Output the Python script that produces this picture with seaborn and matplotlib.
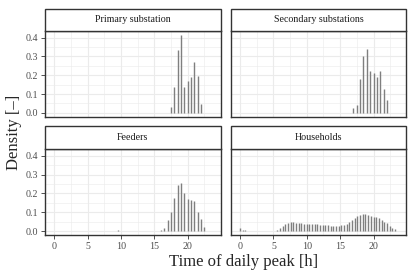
import numpy as np
import pandas as pd
import matplotlib
matplotlib.use("Agg")
import matplotlib.pyplot as plt
import seaborn as sns
from matplotlib.patches import Rectangle
from matplotlib.ticker import MultipleLocator

panels = ["Primary substation", "Secondary substations", "Feeders", "Households"]

primary_hour = [17.5, 18, 18.5, 19, 19.5, 20, 20.5, 21, 21.5, 22]
primary_density = [0.033, 0.14, 0.333, 0.415, 0.14, 0.167, 0.19, 0.272, 0.194, 0.048]

secondary_hour = [17, 17.5, 18, 18.5, 19, 19.5, 20, 20.5, 21, 21.5, 22]
secondary_density = [0.025, 0.04, 0.18, 0.30, 0.34, 0.224, 0.21, 0.19, 0.224, 0.126, 0.066]

feeder_hour = [9.5, 10, 10.5, 11, 11.5, 12, 12.5, 15.5, 16, 16.5, 17, 17.5,
               18, 18.5, 19, 19.5, 20, 20.5, 21, 21.5, 22, 22.5]
feeder_density = [0.004, 0.003, 0.003, 0.002, 0.003, 0.002, 0.003, 0.002, 0.005, 0.018, 0.058, 0.10,
                  0.177, 0.245, 0.254, 0.20, 0.17, 0.165, 0.16, 0.10, 0.064, 0.02]

household_hour = [0.0, 0.4, 0.8, 4.8, 5.2, 5.6, 6.0, 6.4, 6.8, 7.2, 7.6, 8.0, 8.4, 8.8,
                  9.2, 9.6, 10.0, 10.4, 10.8, 11.2, 11.6, 12.0, 12.4, 12.8, 13.2, 13.6,
                  14.0, 14.4, 14.8, 15.2, 15.6, 16.0, 16.4, 16.8, 17.2, 17.6, 18.0, 18.4,
                  18.8, 19.2, 19.6, 20.0, 20.4, 20.8, 21.2, 21.6, 22.0, 22.4, 22.8, 23.2]
household_density = [0.016, 0.008, 0.004, 0.002, 0.003, 0.005, 0.014, 0.026, 0.035, 0.042, 0.048, 0.046, 0.044, 0.042,
                     0.041, 0.039, 0.038, 0.038, 0.036, 0.035, 0.035, 0.034, 0.034, 0.032, 0.030, 0.028,
                     0.028, 0.028, 0.028, 0.030, 0.034, 0.037, 0.046, 0.058, 0.067, 0.080, 0.087, 0.090,
                     0.090, 0.087, 0.080, 0.076, 0.073, 0.067, 0.058, 0.048, 0.041, 0.027, 0.016, 0.010]

x_ticks = [0, 5, 10, 15, 20]
y_ticks = [0.0, 0.1, 0.2, 0.3, 0.4]

frames = []
for name, h, d in zip(panels,
                      [primary_hour, secondary_hour, feeder_hour, household_hour],
                      [primary_density, secondary_density, feeder_density, household_density]):
    frames.append(pd.DataFrame({"panel": name, "hour": h, "density": d}))
df = pd.concat(frames, ignore_index=True)

sns.set_theme(style="white")
plt.rcParams["font.family"] = ["Liberation Serif", "DejaVu Serif"]

g = sns.FacetGrid(df, col="panel", col_wrap=2, col_order=panels,
                  sharex=True, sharey=True, height=1.385, aspect=1.5, despine=False)


def stems(data, color=None, **kw):
    ax = plt.gca()
    ax.vlines(data["hour"], 0, data["density"], color="#7f7f7f", lw=1.0, zorder=3)


g.map_dataframe(stems)
g.set_titles("")
g.set_axis_labels("", "")
fig = g.figure
fig.set_size_inches(4.15, 2.77)

W, H = 415, 277
lefts = [45, 230.7, 45, 230.7]
tops = [31, 31, 149, 149]
bottoms = [116.7, 116.7, 235, 235]
pw = 175.5

ymax = 0.415
for i, ax in enumerate(g.axes.flat):
    ax.set_position([lefts[i] / W, 1 - bottoms[i] / H, pw / W, (bottoms[i] - tops[i]) / H])
    ax.set_xlim(-1.4, 24.9)
    ax.set_ylim(-0.05 * ymax, 1.05 * ymax)
    ax.xaxis.set_major_locator(MultipleLocator(5))
    ax.xaxis.set_minor_locator(MultipleLocator(2.5))
    ax.yaxis.set_major_locator(MultipleLocator(0.1))
    ax.yaxis.set_minor_locator(MultipleLocator(0.05))
    ax.grid(which="major", color="#ebebeb", lw=0.8, zorder=0)
    ax.grid(which="minor", color="#ebebeb", lw=0.4, zorder=0)
    ax.set_axisbelow(True)
    ax.set_facecolor("white")
    for s in ax.spines.values():
        s.set_color("#333333")
        s.set_linewidth(1.0)
    ax.tick_params(which="major", length=2.8, width=0.6, color="#333333",
                   labelsize=7.2, labelcolor="#4d4d4d", pad=2.2, direction="out")
    ax.tick_params(which="minor", length=0)
    ax.set_xticks(x_ticks)
    ax.set_yticks(y_ticks)
    ax.set_yticklabels([f"{v:.1f}" for v in y_ticks])
    if i < 2:
        ax.tick_params(axis="x", which="major", bottom=False, labelbottom=False)
    else:
        ax.tick_params(axis="x", which="major", bottom=True, labelbottom=True)
    if i % 2 == 1:
        ax.tick_params(axis="y", which="major", left=False, labelleft=False)
    else:
        ax.tick_params(axis="y", which="major", left=True, labelleft=True)
    # facet strip
    sh = 22.5 / (bottoms[i] - tops[i])
    ax.add_patch(Rectangle((0, 1), 1, sh, transform=ax.transAxes, clip_on=False,
                           facecolor="white", edgecolor="#333333", lw=1.0, zorder=5))
    ax.text(0.5, 1 + sh / 2, panels[i], transform=ax.transAxes, ha="center", va="center",
            fontsize=7.2, color="#1a1a1a", zorder=6)

fig.text(244 / W, 1 - 262 / H, "Time of daily peak [h]", ha="center", va="center", fontsize=12)
fig.text(14 / W, 1 - 132 / H, "Density [–]", ha="center", va="center", rotation=90, fontsize=12)

fig.savefig("out.png", dpi=100)
